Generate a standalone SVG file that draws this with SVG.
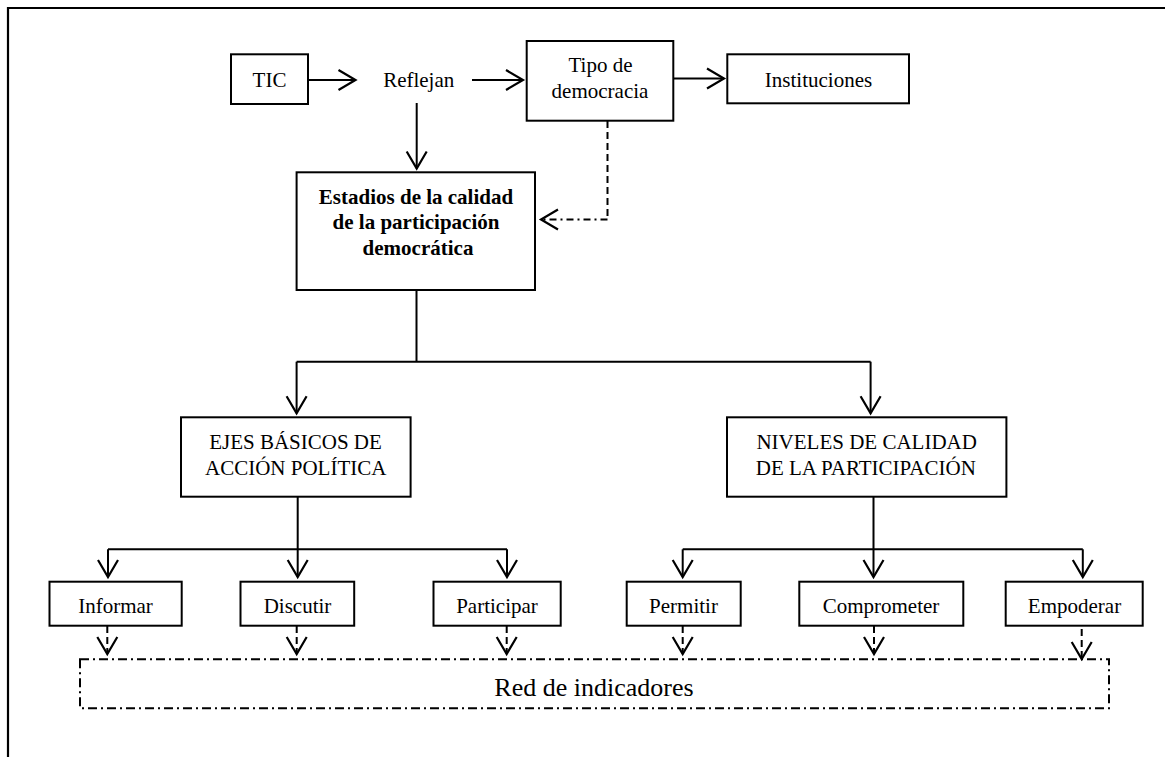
<svg xmlns="http://www.w3.org/2000/svg" width="1165" height="757" viewBox="0 0 1165 757">
<defs>
<style>
.box{fill:#fff;stroke:#000;stroke-width:2}
.t{font-family:"Liberation Serif","Times New Roman",serif;font-size:21px;fill:#000;text-anchor:middle}
.b{font-weight:bold}
.big{font-size:26px}
.c{fill:none;stroke:#000;stroke-width:2}
.dash{stroke-dasharray:7 4}
.dd{stroke-dasharray:7 4 2 4}
</style>
<marker id="ah" markerUnits="userSpaceOnUse" markerWidth="40" markerHeight="40" viewBox="-20 -20 40 40" refX="0" refY="0" orient="auto" overflow="visible">
<path d="M-17,-10 L0,0 L-17,10" fill="none" stroke="#000" stroke-width="2.2"/>
</marker>
</defs>
<rect width="1165" height="757" fill="#fff"/>
<path d="M8,757 V8 H1165" fill="none" stroke="#000" stroke-width="2.2"/>

<g id="connectors">
<path class="c" d="M308,80 H355.5" marker-end="url(#ah)"/>
<path class="c" d="M472,80 H523" marker-end="url(#ah)"/>
<path class="c" d="M673,78.5 H724" marker-end="url(#ah)"/>
<path class="c" d="M416.7,103 V168.5" marker-end="url(#ah)"/>
<path class="c dash" d="M607.5,121 V219.5"/>
<path class="c dd" d="M607.5,219.5 H541" marker-end="url(#ah)"/>
<path class="c" d="M416.5,290 V361.7 M296.6,361.7 H870.6"/>
<path class="c" d="M296.6,361.7 V413.3" marker-end="url(#ah)"/>
<path class="c" d="M870.6,361.7 V413.3" marker-end="url(#ah)"/>
<path class="c" d="M297.7,497 V549.3 M108,549.3 H507"/>
<path class="c" d="M108,549.3 V577" marker-end="url(#ah)"/>
<path class="c" d="M297.7,549.3 V577" marker-end="url(#ah)"/>
<path class="c" d="M507,549.3 V577" marker-end="url(#ah)"/>
<path class="c" d="M873.5,497 V549.3 M682.7,549.3 H1082.8"/>
<path class="c" d="M682.7,549.3 V577" marker-end="url(#ah)"/>
<path class="c" d="M873.5,549.3 V577" marker-end="url(#ah)"/>
<path class="c" d="M1082.8,549.3 V577" marker-end="url(#ah)"/>
<path class="c dash" d="M107.3,626 V654" marker-end="url(#ah)"/>
<path class="c dash" d="M296.7,626 V654" marker-end="url(#ah)"/>
<path class="c dash" d="M506.7,626 V654" marker-end="url(#ah)"/>
<path class="c dash" d="M682.7,626 V654" marker-end="url(#ah)"/>
<path class="c dash" d="M874,626 V654" marker-end="url(#ah)"/>
<path class="c dash" d="M1081.7,629 V659" marker-end="url(#ah)"/>
</g>

<g id="tic"><rect class="box" x="231" y="54.3" width="77" height="49.7"/><text class="t" x="269.5" y="87.3">TIC</text></g>
<g id="reflejan"><text class="t" x="418.7" y="87.3">Reflejan</text></g>
<g id="tipo"><rect class="box" x="526.7" y="41" width="146.6" height="79.7"/><text class="t" x="600.5" y="72.3">Tipo de</text><text class="t" x="600" y="98.3">democracia</text></g>
<g id="instituciones"><rect class="box" x="727.3" y="54.3" width="181.7" height="49"/><text class="t" x="818.5" y="86.7">Instituciones</text></g>
<g id="estadios"><rect class="box" x="296.6" y="172.3" width="238.4" height="117.7"/>
<text class="t b" x="416" y="203.7">Estadios de la calidad</text>
<text class="t b" x="416" y="229.3">de la participación</text>
<text class="t b" x="418" y="254.8">democrática</text></g>
<g id="ejes"><rect class="box" x="181" y="417.3" width="229.6" height="79.4"/><text class="t" x="295.5" y="449">EJES BÁSICOS DE</text><text class="t" x="295.7" y="475">ACCIÓN POLÍTICA</text></g>
<g id="niveles"><rect class="box" x="727" y="417.3" width="279.4" height="79.4"/><text class="t" x="866.7" y="449">NIVELES DE CALIDAD</text><text class="t" x="865.8" y="475">DE LA PARTICIPACIÓN</text></g>
<g id="informar"><rect class="box" x="49.5" y="581.7" width="132.2" height="44"/><text class="t" x="115.5" y="613.3">Informar</text></g>
<g id="discutir"><rect class="box" x="240.5" y="581.7" width="113.7" height="44"/><text class="t" x="297.5" y="613.3">Discutir</text></g>
<g id="participar"><rect class="box" x="433.5" y="581.7" width="127.2" height="44"/><text class="t" x="497" y="613.3">Participar</text></g>
<g id="permitir"><rect class="box" x="626.7" y="581.7" width="114" height="44"/><text class="t" x="683.5" y="613.3">Permitir</text></g>
<g id="comprometer"><rect class="box" x="799.3" y="581.7" width="164" height="44"/><text class="t" x="881" y="613.3">Comprometer</text></g>
<g id="empoderar"><rect class="box" x="1005.7" y="581.7" width="137" height="44"/><text class="t" x="1074.5" y="613.3">Empoderar</text></g>
<g id="red"><rect x="80" y="659.3" width="1029" height="49" fill="none" stroke="#000" stroke-width="2" stroke-dasharray="9 4 2 4"/><text class="t big" x="594" y="696">Red de indicadores</text></g>
</svg>
